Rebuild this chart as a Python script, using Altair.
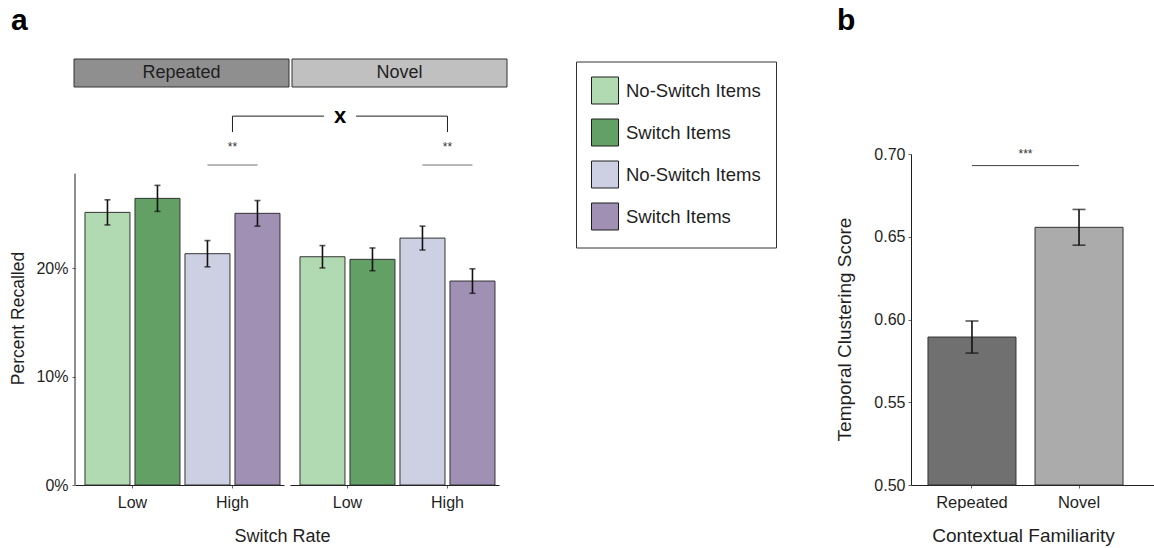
import altair as alt
import pandas as pd

FONT = "Liberation Sans"
INK = "#1f1f1f"

# ---- Panel a: percent recalled by switch rate and item type ----
switch_rates = ["Low", "Low", "High", "High"]
item_types = ["No-Switch Items", "Switch Items", "No-Switch Items", "Switch Items"]
repeated_recall = [0.2513, 0.2642, 0.2132, 0.2504]
repeated_sem = [0.0116, 0.0120, 0.0121, 0.0118]
novel_recall = [0.2104, 0.2080, 0.2276, 0.1880]
novel_sem = [0.0103, 0.0105, 0.0110, 0.0113]
bar_colors = ["#b2dab2", "#62a065", "#cdd0e2", "#9f90b4"]
familiarity_headers = ["Repeated", "Novel"]
header_colors = ["#8f8f8f", "#c0c0c0"]

rate_order = ["Low", "High"]
item_order = ["No-Switch Items", "Switch Items"]
color_keys = [f"{r}|{i}" for r, i in zip(switch_rates, item_types)]

# significance annotation levels (in recall units)
pair_line_y = 0.295
pair_star_y = 0.3115
bracket_low_y = 0.3253
bracket_high_y = 0.340
recall_axis_top = 0.287
recall_scale_max = 0.3051

# ---- Panel b: temporal clustering by contextual familiarity ----
contexts = ["Repeated", "Novel"]
clustering = [0.5894, 0.6557]
clustering_sem = [0.0097, 0.0108]
context_colors = ["#707070", "#ababab"]
clustering_ticks = [0.50, 0.55, 0.60, 0.65, 0.70]
clustering_line_y = 0.693
clustering_star_y = 0.7042

PLOT_H = 331
PANEL_A_W = 209
PANEL_B_W = 243


def recall_panel(idx, means, sems):
    first = idx == 0
    df = pd.DataFrame({
        "rate": switch_rates,
        "item": item_types,
        "recall": means,
        "lo": [m - s for m, s in zip(means, sems)],
        "hi": [m + s for m, s in zip(means, sems)],
        "key": color_keys,
    })

    x_axis = alt.Axis(
        title="Switch Rate" if first else None,
        labelAngle=0, labelFontSize=16, labelBaseline="alphabetic",
        tickSize=3, labelPadding=19, tickColor="#666", domainColor=INK,
        titleFontSize=18, titleFontWeight="normal", titleX=207, titleY=56.5,
        titleAlign="center", titleBaseline="alphabetic",
    )
    x = alt.X("rate:N", scale=alt.Scale(domain=rate_order, paddingInner=0,
                                          paddingOuter=0.045, align=0.83),
              axis=x_axis)
    x_off = alt.XOffset("item:N", scale=alt.Scale(domain=item_order,
                                                    paddingInner=0.1, paddingOuter=0.05))
    y_scale = alt.Scale(domain=[0, recall_scale_max], nice=False, zero=True)
    if first:
        y_axis = alt.Axis(title="Percent Recalled", values=[0, 0.1, 0.2], format=".0%",
                          labelFontSize=16, tickSize=3, labelPadding=4, domain=False,
                          tickColor="#666", grid=False, titleFontSize=17.5,
                          titleFontWeight="normal", titleX=-52, titleY=164,
                          titleBaseline="alphabetic", titleAlign="center")
    else:
        y_axis = None

    def y_enc(field):
        return alt.Y(field, type="quantitative", scale=y_scale, axis=y_axis)

    legend = alt.Legend(
        title=None, orient="none", legendX=501, legendY=-92.5,
        symbolType="square", symbolSize=729, symbolStrokeColor=INK,
        symbolStrokeWidth=1, symbolOpacity=1, labelFontSize=18.5,
        labelFont=FONT, labelColor=INK, labelOffset=7, rowPadding=10,
        padding=15, strokeColor="#333", fillColor="white",
        labelExpr="split(datum.label, '|')[1]",
    ) if first else None

    bars = alt.Chart(df).mark_bar(stroke="#333", strokeWidth=1).encode(
        x=x, xOffset=x_off, y=y_enc("recall"),
        color=alt.Color("key:N", scale=alt.Scale(domain=color_keys, range=bar_colors),
                        legend=legend),
    )
    err = alt.Chart(df).mark_rule(color="#111", strokeWidth=1.6).encode(
        x=x, xOffset=x_off, y=y_enc("lo"), y2="hi:Q")
    cap_lo = alt.Chart(df).mark_tick(color="#111", size=6, thickness=1.6,
                                     orient="horizontal").encode(
        x=x, xOffset=x_off, y=y_enc("lo"))
    cap_hi = alt.Chart(df).mark_tick(color="#111", size=6, thickness=1.6,
                                     orient="horizontal").encode(
        x=x, xOffset=x_off, y=y_enc("hi"))

    sig = pd.DataFrame({"rate": ["High"], "line": [pair_line_y], "star": [pair_star_y],
                        "b_lo": [bracket_low_y], "b_hi": [bracket_high_y]})
    pair_line = alt.Chart(sig).mark_tick(color="#333", size=50, thickness=1,
                                         orient="horizontal").encode(
        x=x, y=y_enc("line"))
    pair_star = alt.Chart(sig).mark_text(text="**", fontSize=12, color="#333",
                                         baseline="middle", font=FONT).encode(
        x=x, y=y_enc("star"))
    bracket_leg = alt.Chart(sig).mark_rule(color=INK, strokeWidth=1).encode(
        x=x, y=y_enc("b_lo"), y2="b_hi:Q")
    # horizontal arm of the bracket, running toward the "x" between the panels
    arm_end = 249 if first else 66
    bracket_arm = alt.Chart(sig).mark_rule(color=INK, strokeWidth=1).encode(
        x=x, x2=alt.value(arm_end), y=y_enc("b_hi"))

    head = pd.DataFrame({"label": [familiarity_headers[idx]],
                         "fill": [header_colors[idx]]})
    hx0, hx1 = (-1, 214) if first else (2, 217)
    header_box = alt.Chart(head).mark_rect(stroke="#333", strokeWidth=1).encode(
        x=alt.value(hx0), x2=alt.value(hx1), y=alt.value(-95), y2=alt.value(-67),
        fill=alt.Fill("fill:N", scale=None))
    header_text = alt.Chart(head).mark_text(fontSize=18, color=INK, font=FONT,
                                            baseline="middle", align="center").encode(
        x=alt.value((hx0 + hx1) / 2), y=alt.value(-81), text="label:N")

    layers = [header_box, header_text, bars, err, cap_lo, cap_hi,
              pair_line, pair_star, bracket_leg, bracket_arm]

    if first:
        axis_df = pd.DataFrame({"lo": [0.0], "hi": [recall_axis_top]})
        axis_line = alt.Chart(axis_df).mark_rule(color=INK, strokeWidth=1).encode(
            x=alt.value(0), y=y_enc("lo"), y2="hi:Q")
        letter = alt.Chart(pd.DataFrame({"t": ["a"]})).mark_text(
            fontSize=30, fontWeight="bold", font=FONT, color="black",
            align="left", baseline="alphabetic").encode(
            x=alt.value(-64), y=alt.value(-124), text="t:N")
        layers += [axis_line, letter]
    else:
        cross = alt.Chart(sig).mark_text(text="x", fontSize=22, fontWeight="bold",
                                         font=FONT, color="black",
                                         baseline="middle").encode(
            x=alt.value(50), y=y_enc("b_hi"))
        layers.append(cross)

    return alt.layer(*layers).properties(width=PANEL_A_W, height=PLOT_H)


repeated_chart = recall_panel(0, repeated_recall, repeated_sem)
novel_chart = recall_panel(1, novel_recall, novel_sem)

# empty column separating the two panels
spacer = alt.Chart(pd.DataFrame({"v": [0]})).mark_point(opacity=0).encode(
    x=alt.value(0), y=alt.value(0)).properties(width=400, height=PLOT_H)

# ---- panel b ----
bdf = pd.DataFrame({
    "context": contexts,
    "score": clustering,
    "lo": [m - s for m, s in zip(clustering, clustering_sem)],
    "hi": [m + s for m, s in zip(clustering, clustering_sem)],
    "fill": context_colors,
})
bx = alt.X("context:N",
           scale=alt.Scale(domain=contexts, paddingInner=0.178, paddingOuter=0.224,
                           align=0.354),
           axis=alt.Axis(title="Contextual Familiarity", labelAngle=0, labelFontSize=16.5,
                         labelBaseline="alphabetic", tickSize=3, labelPadding=19,
                         tickColor="#666", domainColor=INK, titleFontSize=19,
                         titleFontWeight="normal", titleX=112, titleY=56,
                         titleAlign="center", titleBaseline="alphabetic"))
b_scale = alt.Scale(domain=[0.5, 0.7], nice=False, zero=False, clamp=True)
b_axis = alt.Axis(title="Temporal Clustering Score", values=clustering_ticks,
                  format=".2f", labelFontSize=16, tickSize=3, labelPadding=3,
                  tickColor="#666", domainColor=INK, grid=False, titleFontSize=19,
                  titleFontWeight="normal", titleX=-61, titleY=175,
                  titleBaseline="alphabetic", titleAlign="center")


def by(field):
    return alt.Y(field, type="quantitative", scale=b_scale, axis=b_axis)


b_bars = alt.Chart(bdf).mark_bar(stroke="#333", strokeWidth=1).encode(
    x=bx, y=by("score"), fill=alt.Fill("fill:N", scale=None))
b_err = alt.Chart(bdf).mark_rule(color="#111", strokeWidth=1.6).encode(
    x=bx, y=by("lo"), y2="hi:Q")
b_cap_lo = alt.Chart(bdf).mark_tick(color="#111", size=13, thickness=1.6,
                                    orient="horizontal").encode(x=bx, y=by("lo"))
b_cap_hi = alt.Chart(bdf).mark_tick(color="#111", size=13, thickness=1.6,
                                    orient="horizontal").encode(x=bx, y=by("hi"))
bsig = pd.DataFrame({"context": [contexts[0]], "to": [contexts[1]],
                     "line": [clustering_line_y], "star": [clustering_star_y]})
b_line = alt.Chart(bsig).mark_rule(color="#444", strokeWidth=1).encode(
    x=bx, x2="to:N", y=by("line"))
b_star = alt.Chart(bsig).mark_text(text="***", fontSize=12, color="#333", font=FONT,
                                   baseline="middle", dx=53.5).encode(
    x=bx, y=by("star"))
b_letter = alt.Chart(pd.DataFrame({"t": ["b"]})).mark_text(
    fontSize=30, fontWeight="bold", font=FONT, color="black",
    align="left", baseline="alphabetic").encode(
    x=alt.value(-74), y=alt.value(-124), text="t:N")

panel_b = alt.layer(b_bars, b_err, b_cap_lo, b_cap_hi, b_line, b_star, b_letter).properties(
    width=PANEL_B_W, height=PLOT_H)

chart = alt.hconcat(repeated_chart, novel_chart, spacer, panel_b, spacing=6,
                    bounds="flush").resolve_scale(color="independent").properties(
    padding={"left": 9, "top": 6, "right": 0, "bottom": 0},
    background="white",
).configure_view(stroke=None).configure_axis(
    labelFont=FONT, titleFont=FONT, labelColor=INK, titleColor=INK, grid=False
).configure_text(font=FONT)

chart.save("out.html", embed_options={"renderer": "svg", "actions": False})
